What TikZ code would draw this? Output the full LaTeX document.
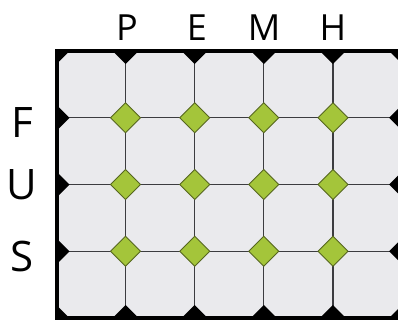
\documentclass[tikz,border=0pt]{standalone}
\usepackage{fontspec}
\setmainfont{Open Sans}
\definecolor{tilegray}{HTML}{EAEAED}
\definecolor{leaf}{HTML}{A4C53A}
\definecolor{leafline}{HTML}{56661F}
\definecolor{grout}{HTML}{3C3C40}
\tikzset{
  toplab/.style={font=\fontsize{36}{40}\selectfont, anchor=base, inner sep=0pt},
  sidelab/.style={font=\fontsize{42}{48}\selectfont, anchor=base, inner sep=0pt},
  gem/.style={fill=leaf, draw=leafline, line width=0.9pt},
  blackcap/.style={fill=black},
  groutline/.style={draw=grout, line width=1.3pt},
  frame/.style={draw=black, line width=4pt}
}
\begin{document}
\begin{tikzpicture}[x=1pt,y=-1pt]
\useasboundingbox (0,0) rectangle (398,324);
\fill[white] (0,0) rectangle (398,324);
% labels
\node[toplab] (P) at (127,40) {P};
\node[toplab] (E) at (197,40) {E};
\node[toplab] (M) at (264,40) {M};
\node[toplab] (H) at (333,40) {H};
\node[sidelab] (F) at (22,137) {F};
\node[sidelab] (U) at (22,199.5) {U};
\node[sidelab] (S) at (22,271) {S};
\begin{scope}
\clip (56.5,51) rectangle (398,318);
\fill[tilegray] (56.5,51) rectangle (402,318);
% grout lines
\foreach \x in {125.6,194.7,263.8,332.9}
  \draw[groutline] (\x,51) -- (\x,318);
\foreach \y in {117.75,184.5,251.25}
  \draw[groutline] (56.5,\y) -- (402,\y);
% black half diamonds at border
\foreach \x in {56.5,125.6,194.7,263.8,332.9,402} {
  \fill[blackcap] (\x,51) +(-13,0) -- +(0,13) -- +(13,0) -- +(0,-13) -- cycle;
  \fill[blackcap] (\x,318) +(-13,0) -- +(0,13) -- +(13,0) -- +(0,-13) -- cycle;
}
\foreach \y in {117.75,184.5,251.25} {
  \fill[blackcap] (56.5,\y) +(-13,0) -- +(0,13) -- +(13,0) -- +(0,-13) -- cycle;
  \fill[blackcap] (402,\y) +(-13,0) -- +(0,13) -- +(13,0) -- +(0,-13) -- cycle;
}
% green diamonds
\foreach \x in {125.6,194.7,263.8,332.9}
  \foreach \y in {117.75,184.5,251.25}
    \draw[gem] (\x,\y) +(-15,0) -- +(0,15) -- +(15,0) -- +(0,-15) -- cycle;
\end{scope}
\draw[frame] (402,51) -- (56.5,51) -- (56.5,318) -- (402,318);
\end{tikzpicture}
\end{document}
